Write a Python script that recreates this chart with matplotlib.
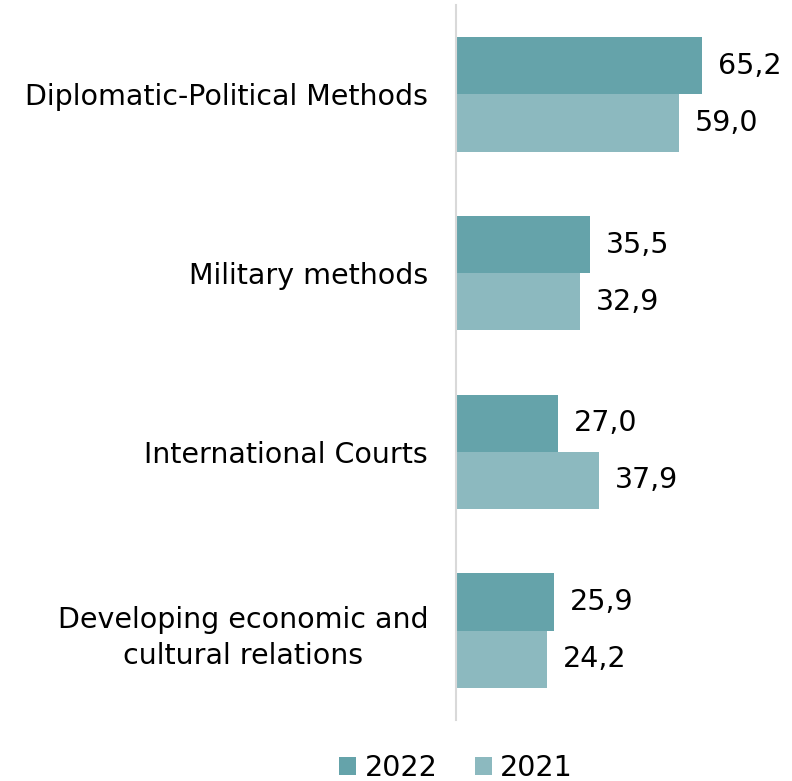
import matplotlib
matplotlib.use('Agg')
import matplotlib.pyplot as plt
import numpy as np

# Data
categories = ['Diplomatic-Political Methods', 'Military methods',
              'International Courts', 'Developing economic and\ncultural relations']
values_2022 = [65.2, 35.5, 27.0, 25.9]
values_2021 = [59.0, 32.9, 37.9, 24.2]
series_labels = ['2022', '2021']

colors = ['#65A3AA', '#8CB9BF']

plt.rcParams['font.family'] = ['Verdana', 'DejaVu Sans']
fs = 20.5

fig = plt.figure(figsize=(7.92, 7.81), dpi=100)
ax = fig.add_axes([456 / 792, 61 / 781, 336 / 792, 715 / 781])

y = np.arange(len(categories))
h = 0.32
b1 = ax.barh(y - h / 2, values_2022, height=h, color=colors[0], label=series_labels[0])
b2 = ax.barh(y + h / 2, values_2021, height=h, color=colors[1], label=series_labels[1])

# value labels to the right of each bar
for bars, vals in ((b1, values_2022), (b2, values_2021)):
    for rect, v in zip(bars, vals):
        ax.annotate(f'{v:.1f}'.replace('.', ','),
                    (rect.get_width(), rect.get_y() + rect.get_height() / 2),
                    xytext=(16, 0), textcoords='offset pixels',
                    va='center', ha='left', fontsize=fs, color='#000000')

ax.set_xlim(0, 89)
ax.set_ylim(len(categories) - 0.5, -0.5)
ax.set_yticks(y)
ax.set_yticklabels(categories, fontsize=fs, multialignment='center', linespacing=1.4)
ax.tick_params(axis='y', length=0, pad=20)
ax.set_xticks([])
for s in ['top', 'right', 'bottom']:
    ax.spines[s].set_visible(False)
ax.spines['left'].set_color('#D9D9D9')
ax.spines['left'].set_linewidth(1.5)

fig.legend(handles=[b1, b2], labels=series_labels, loc='center',
           bbox_to_anchor=(456 / 792, 1 - 768 / 781), ncol=2, frameon=False,
           fontsize=fs, handlelength=0.6, handleheight=0.6, handletextpad=0.3,
           columnspacing=1.3)

fig.savefig('out.png', dpi=100)
